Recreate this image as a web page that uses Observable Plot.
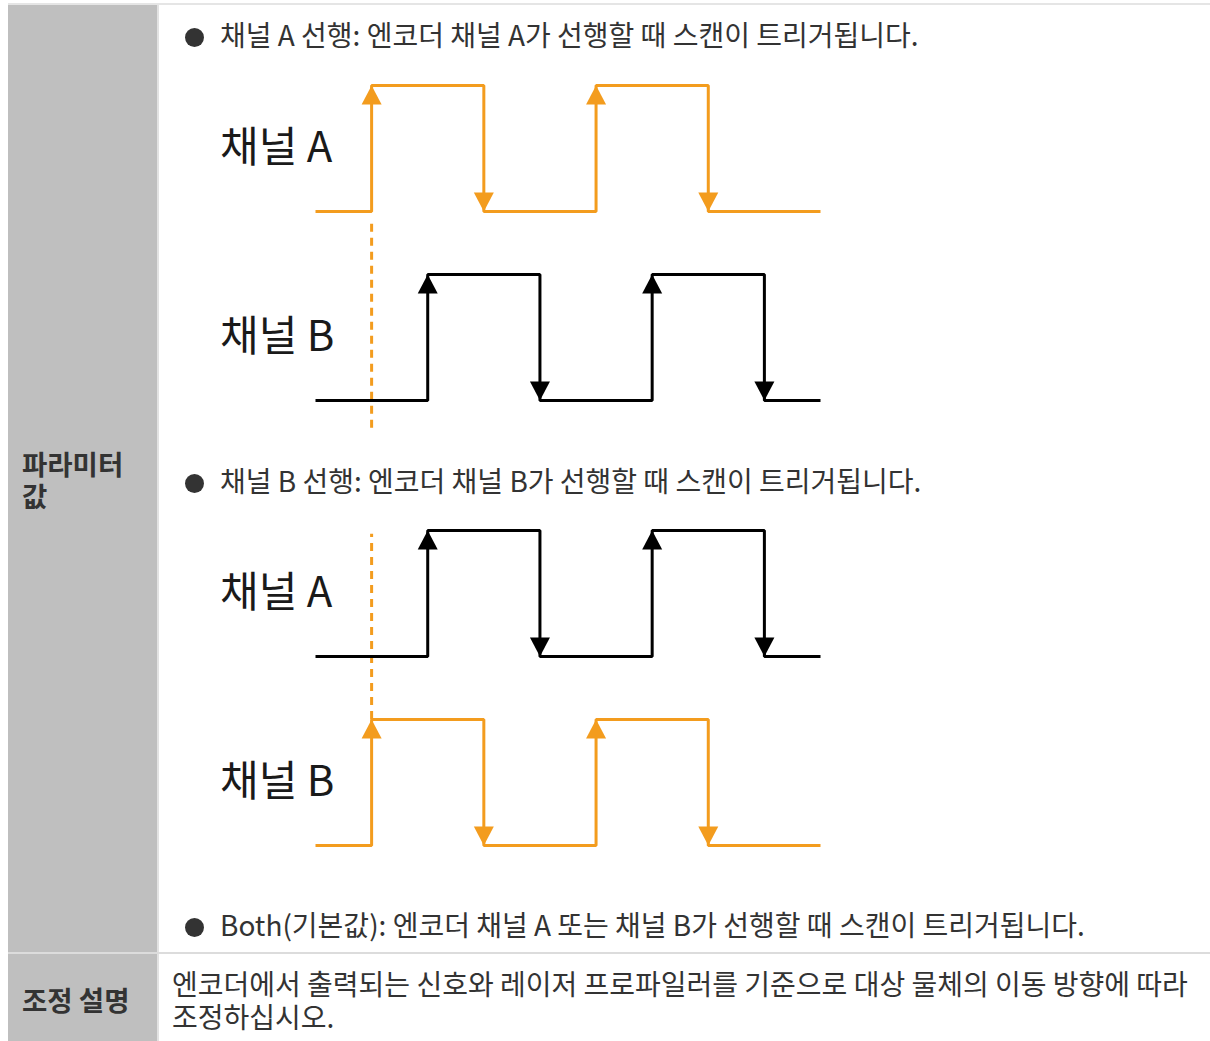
<!DOCTYPE html>
<html><head><meta charset="utf-8">
<script src="https://cdn.jsdelivr.net/npm/d3@7"></script>
<script src="https://cdn.jsdelivr.net/npm/@observablehq/plot@0.6"></script>
<style>
html,body{margin:0;padding:0;background:#fff;}
#page{position:relative;width:1210px;height:1041px;overflow:hidden;font-family:"Noto Sans CJK KR","Noto Sans",sans-serif;color:#333;}
.abs{position:absolute;}
.txt{position:absolute;font-size:28px;line-height:34px;white-space:nowrap;}
.bold{font-weight:700;font-size:27.5px;line-height:32px;}
.dot{position:absolute;width:19px;height:19px;border-radius:50%;background:#333;}
.plot{position:absolute;left:0;}
</style></head>
<body><div id="page"></div>
<script>
// ---- data ----
const tStart = 0, tEnd = 9;          // time span of each waveform
const leadRise = [1, 5];             // leading channel rising edges
const leadFall = [3, 7];             // leading channel falling edges
const lagRise = [2, 6];              // lagging channel rising edges
const lagFall = [4, 8];              // lagging channel falling edges
const triggerT = 1;                  // scan trigger moment
const channelNames = ["채널 A", "채널 B"];
const bulletTexts = [
  "채널 A 선행: 엔코더 채널 A가 선행할 때 스캔이 트리거됩니다.",
  "채널 B 선행: 엔코더 채널 B가 선행할 때 스캔이 트리거됩니다.",
  "Both(기본값): 엔코더 채널 A 또는 채널 B가 선행할 때 스캔이 트리거됩니다."
];
const rowHeaders = ["파라미터\n값", "조정 설명"];
const descLines = ["엔코더에서 출력되는 신호와 레이저 프로파일러를 기준으로 대상 물체의 이동 방향에 따라", "조정하십시오."];
const leadColor = "#f39c1e", lagColor = "#000000";

// ---- table layout ----
const page = document.getElementById("page");
function el(cls, style, text) {
  const d = document.createElement("div");
  d.className = cls; Object.assign(d.style, style);
  if (text != null) d.textContent = text;
  page.appendChild(d); return d;
}
el("abs", {left:"8px", top:"3px", right:"0", height:"2px", background:"#e5e5e5"});
el("abs", {left:"8px", top:"5px", width:"149px", bottom:"0", background:"#bfbfbf"});
el("abs", {left:"157px", top:"5px", width:"2px", bottom:"0", background:"#e2e2e2"});
el("abs", {left:"8px", top:"952px", right:"0", height:"2px", background:"#dcdcdc"});

el("txt bold", {left:"22px", top:"447px", whiteSpace:"pre"}, rowHeaders[0]);
el("txt bold", {left:"22px", top:"983px"}, rowHeaders[1]);
const bulletTops = [17, 463, 907];
bulletTexts.forEach((t, i) => {
  el("dot", {left:"185px", top:(bulletTops[i] + 11) + "px"});
  el("txt", {left:"220px", top:bulletTops[i] + "px"}, t);
});
el("txt", {left:"172px", top:"967px", lineHeight:"33px", whiteSpace:"pre"}, descLines.join("\n"));

// ---- waveform helpers ----
function wave(rises, falls, low) {
  const pts = [{t: tStart, v: low}];
  [...rises.map(t => ({t, v: low + 1})), ...falls.map(t => ({t, v: low}))]
    .sort((a, b) => a.t - b.t).forEach(p => pts.push(p));
  pts.push({t: tEnd, v: low});
  return pts;
}
const upArrow = {draw(c) { c.moveTo(0, 0); c.lineTo(10, 19); c.lineTo(-10, 19); c.closePath(); }};
const downArrow = {draw(c) { c.moveTo(0, 0); c.lineTo(10, -19); c.lineTo(-10, -19); c.closePath(); }};

function signalMarks(rises, falls, low, color) {
  return [
    Plot.line(wave(rises, falls, low), {x: "t", y: "v", curve: "step-after", stroke: color, strokeWidth: 3, strokeLinejoin: "miter", strokeLinecap: "butt"}),
    Plot.dot(rises, {x: d => d, y: low + 1, symbol: upArrow, r: 5, fill: color, stroke: null}),
    Plot.dot(falls, {x: d => d, y: low, symbol: downArrow, r: 5, fill: color, stroke: null})
  ];
}

function diagram(aLeads, top, dash) {
  const aLow = 1.5, bLow = 0;
  const a = aLeads ? [leadRise, leadFall, leadColor] : [lagRise, lagFall, lagColor];
  const b = aLeads ? [lagRise, lagFall, lagColor] : [leadRise, leadFall, leadColor];
  const svg = Plot.plot({
    width: 1210, height: 400,
    marginLeft: 315, marginRight: 390, marginTop: 25, marginBottom: 60,
    x: {domain: [tStart, tEnd], axis: null},
    y: {domain: [0, 2.5], axis: null},
    style: {background: "transparent", overflow: "visible"},
    marks: [
      Plot.ruleX([triggerT], {y1: dash[0], y2: dash[1], stroke: leadColor, strokeWidth: 3, strokeDasharray: "8,6"}),
      ...signalMarks(a[0], a[1], aLow, a[2]),
      ...signalMarks(b[0], b[1], bLow, b[2]),
      Plot.text([{n: channelNames[0], v: aLow + 0.5}, {n: channelNames[1], v: bLow + 0.5}],
        {x: -1.7, y: "v", text: "n", textAnchor: "start", fontSize: 42, fill: "#1a1a1a",
         fontFamily: "'Liberation Sans Narrow','Noto Sans CJK KR',sans-serif"})
    ]
  });
  svg.classList.add("plot");
  svg.style.top = top + "px";
  page.appendChild(svg);
}
diagram(true, 60, [-0.22, 1.44]);
diagram(false, 505, [1.0, 2.47]);
</script></body></html>
